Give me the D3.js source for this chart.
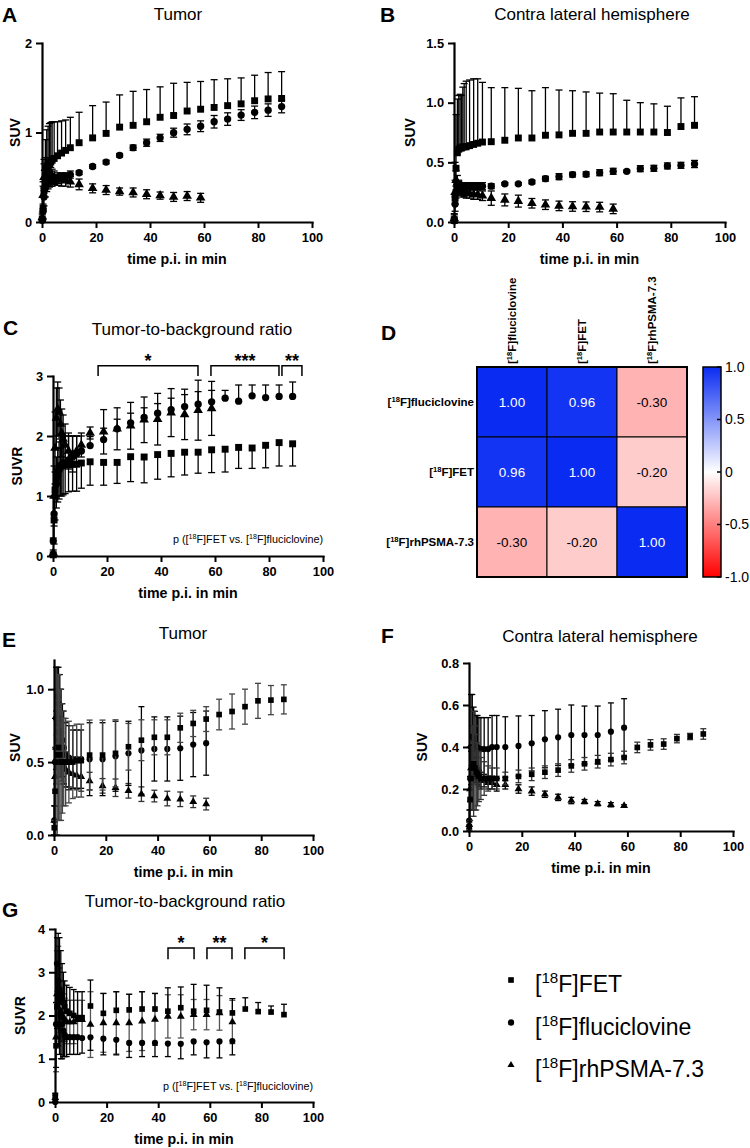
<!DOCTYPE html>
<html>
<head>
<meta charset="utf-8">
<script src="https://cdn.jsdelivr.net/npm/d3@7"></script>
<style>
  body { margin: 0; background: #fff; }
  svg { display: block; font-family: "Liberation Sans", Arial, sans-serif; }
</style>
</head>
<body>
<svg id="fig" width="750" height="1148"></svg>
<script>
// frame mid-times in min (dense early frames, then 5-min frames)
const frameTimes = [0.1, 0.4, 0.75, 1.25, 1.75, 2.25, 2.75, 3.25, 3.75, 4.5, 5.75, 7.25, 8.75, 10.5,
  13.75, 18.75, 23.75, 28.75, 33.75, 38.75, 43.75, 48.75, 53.75, 58.75, 63.75, 68.75, 73.75, 78.75, 83.75, 88.75];
const xTickValues = [0, 20, 40, 60, 80, 100];

// --- A: tumor SUV ---
const aFET = [0.03,0.15,0.35,0.5,0.58,0.62,0.65,0.67,0.69,0.71,0.74,0.77,0.8,0.83, 0.886,0.94,0.99,1.06,1.08,1.12,1.17,1.19,1.24,1.26,1.28,1.30,1.32,1.355,1.375,1.38];
const aFETsd = [0.05,0.25,0.35,0.42,0.45,0.45,0.45,0.44,0.43,0.41,0.38,0.36,0.34,0.34, 0.34,0.36,0.35,0.36,0.38,0.36,0.34,0.36,0.32,0.31,0.31,0.30,0.29,0.285,0.295,0.30];
const aFluc = [0.02,0.12,0.28,0.38,0.42,0.44,0.45,0.46,0.46,0.47,0.48,0.5,0.51,0.53, 0.55,0.62,0.67,0.745,0.83,0.886,0.94,0.998,1.035,1.07,1.12,1.15,1.195,1.225,1.25,1.29];
const aFlucSd = [0.02,0.08,0.1,0.1,0.08,0.07,0.06,0.06,0.06,0.05,0.05,0.05,0.04,0.04, 0.02,0.02,0.02,0.02,0.03,0.04,0.04,0.05,0.06,0.06,0.07,0.07,0.06,0.07,0.07,0.07];
const aPsma = [0.05,0.3,0.5,0.6,0.6,0.57,0.55,0.53,0.51,0.5,0.48,0.47,0.46,0.45, 0.42,0.376,0.357,0.34,0.33,0.31,0.295,0.28,0.29,0.27];
const aPsmaSd = [0.05,0.15,0.15,0.12,0.1,0.09,0.08,0.08,0.08,0.07,0.07,0.07,0.06,0.06, 0.06,0.05,0.05,0.04,0.05,0.05,0.04,0.05,0.05,0.05];

// --- B: contralateral SUV ---
const bFET = [0.02,0.2,0.45,0.58,0.61,0.62,0.62,0.63,0.63,0.63,0.64,0.65,0.66,0.67, 0.673,0.685,0.704,0.704,0.727,0.73,0.743,0.743,0.754,0.754,0.754,0.754,0.754,0.75,0.80,0.81];
const bFETsd = [0.05,0.3,0.45,0.45,0.45,0.45,0.44,0.5,0.53,0.55,0.55,0.55,0.54,0.5, 0.453,0.441,0.416,0.396,0.399,0.376,0.357,0.347,0.326,0.321,0.266,0.246,0.236,0.22,0.24,0.24];
const bFluc = [0.01,0.15,0.25,0.29,0.3,0.3,0.3,0.3,0.3,0.3,0.3,0.3,0.3,0.3, 0.30,0.32,0.32,0.335,0.363,0.38,0.397,0.40,0.413,0.425,0.425,0.447,0.45,0.47,0.475,0.486];
const bFlucSd = [0.02,0.06,0.05,0.04,0.04,0.03,0.03,0.03,0.03,0.03,0.03,0.03,0.03,0.03, 0.02,0.01,0.01,0.015,0.02,0.025,0.02,0.02,0.025,0.025,0.01,0.025,0.025,0.025,0.025,0.03];
const bPsma = [0.03,0.25,0.35,0.33,0.3,0.28,0.27,0.26,0.25,0.24,0.24,0.23,0.23,0.22, 0.20,0.185,0.175,0.157,0.145,0.135,0.13,0.128,0.125,0.11];
const bPsmaSd = [0.03,0.1,0.08,0.06,0.05,0.05,0.05,0.05,0.04,0.04,0.04,0.04,0.04,0.04, 0.06,0.05,0.05,0.04,0.04,0.04,0.04,0.04,0.04,0.04];

// --- C: tumor-to-background SUVR ---
const cFET = [0.02,0.6,1.1,1.3,1.4,1.45,1.5,1.5,1.52,1.52,1.52,1.53,1.53,1.55, 1.57,1.56,1.56,1.655,1.65,1.69,1.71,1.73,1.73,1.77,1.78,1.81,1.80,1.845,1.89,1.87];
const cFETsd = [0.02,0.4,0.5,0.5,0.5,0.5,0.5,0.5,0.5,0.48,0.45,0.45,0.45,0.42, 0.39,0.38,0.35,0.415,0.43,0.41,0.39,0.38,0.35,0.38,0.38,0.35,0.34,0.375,0.39,0.37];
const cFluc = [0.25,0.7,1.0,1.2,1.35,1.45,1.5,1.52,1.55,1.55,1.6,1.65,1.7,1.75, 1.84,1.94,2.12,2.22,2.31,2.38,2.44,2.49,2.53,2.57,2.63,2.58,2.67,2.64,2.66,2.66];
const cFlucSd = [0.05,0.3,0.4,0.45,0.45,0.45,0.45,0.45,0.45,0.45,0.4,0.35,0.3,0.25, 0.15,0.19,0.16,0.16,0.16,0.16,0.19,0.2,0.21,0.19,0.13,0.27,0.18,0.21,0.19,0.24];
const cPsma = [0.05,1.0,1.8,2.3,2.45,2.4,2.2,2.05,1.95,1.85,1.75,1.7,1.75,1.85, 2.05,2.07,2.12,2.17,2.27,2.28,2.39,2.36,2.43,2.46];
const cPsmaSd = [0.05,0.5,0.6,0.5,0.45,0.4,0.4,0.4,0.4,0.35,0.3,0.3,0.25,0.2, 0.1,0.37,0.35,0.39,0.38,0.43,0.4,0.42,0.5,0.45];
const cSignif = [{from: 16.7, to: 53.7, label: "*"}, {from: 58.5, to: 83.7, label: "***"}, {from: 84.8, to: 92.2, label: "**"}];

// --- D: correlation matrix ---
const corrLabels = ["fluciclovine", "FET", "rhPSMA-7.3"];
const corrMatrix = [[1.00, 0.96, -0.30], [0.96, 1.00, -0.20], [-0.30, -0.20, 1.00]];
const corrTicks = [1, 0.5, 0, -0.5, -1];

// --- E: tumor SUV (second cohort) ---
const eFET = [0.05,0.3,0.5,0.55,0.6,0.55,0.5,0.5,0.5,0.5,0.5,0.5,0.51,0.51, 0.548,0.548,0.56,0.605,0.65,0.67,0.67,0.735,0.765,0.795,0.826,0.847,0.88,0.92,0.925,0.93];
const eFETsd = [0.05,0.3,0.5,0.55,0.5,0.45,0.4,0.35,0.3,0.3,0.28,0.25,0.25,0.25, 0.24,0.24,0.23,0.16,0.14,0.12,0.12,0.1,0.09,0.085,0.105,0.12,0.12,0.12,0.1,0.1];
const eFluc = [0.1,0.5,0.8,0.95,0.9,0.8,0.7,0.65,0.6,0.55,0.53,0.52,0.52,0.52, 0.52,0.52,0.54,0.56,0.58,0.59,0.59,0.595,0.62,0.63];
const eFlucSd = [0.1,0.3,0.35,0.2,0.25,0.3,0.3,0.25,0.25,0.22,0.22,0.2,0.2,0.2, 0.25,0.25,0.24,0.22,0.3,0.22,0.22,0.22,0.22,0.22];
const ePsma = [0.1,0.4,0.6,0.7,0.65,0.6,0.55,0.5,0.47,0.45,0.43,0.42,0.41,0.4, 0.37,0.337,0.324,0.303,0.28,0.267,0.25,0.245,0.228,0.212];
const ePsmaSd = [0.1,0.2,0.25,0.3,0.25,0.2,0.18,0.15,0.12,0.12,0.1,0.1,0.1,0.1, 0.06,0.05,0.06,0.05,0.05,0.04,0.05,0.05,0.04,0.04];

// --- F: contralateral SUV (second cohort) ---
const fFET = [0.02,0.15,0.25,0.3,0.32,0.3,0.28,0.27,0.26,0.25,0.25,0.25,0.25,0.25, 0.25,0.26,0.27,0.28,0.29,0.31,0.32,0.33,0.34,0.35,0.398,0.41,0.414,0.44,0.45,0.462];
const fFETsd = [0.02,0.1,0.15,0.2,0.25,0.2,0.18,0.15,0.12,0.1,0.08,0.06,0.05,0.05, 0.03,0.03,0.03,0.03,0.03,0.03,0.03,0.03,0.03,0.03,0.025,0.025,0.025,0.02,0.015,0.025];
const fFluc = [0.05,0.25,0.4,0.45,0.44,0.42,0.4,0.4,0.39,0.39,0.39,0.39,0.4,0.4, 0.40,0.405,0.418,0.437,0.446,0.457,0.457,0.457,0.473,0.492];
const fFlucSd = [0.05,0.15,0.25,0.2,0.15,0.15,0.15,0.15,0.15,0.15,0.15,0.15,0.15,0.15, 0.144,0.143,0.132,0.136,0.134,0.143,0.138,0.138,0.137,0.138];
const fPsma = [0.03,0.2,0.3,0.32,0.3,0.28,0.27,0.26,0.25,0.24,0.24,0.23,0.23,0.22, 0.22,0.2,0.19,0.175,0.16,0.145,0.14,0.13,0.125,0.12];
const fPsmaSd = [0.02,0.06,0.08,0.06,0.05,0.05,0.04,0.04,0.04,0.04,0.03,0.03,0.03,0.03, 0.02,0.02,0.02,0.015,0.015,0.015,0.01,0.01,0.01,0.005];

// --- G: tumor-to-background SUVR (second cohort) ---
const gFET = [0.15,1.3,2.2,2.5,2.6,2.5,2.4,2.3,2.2,2.1,2.05,2.0,1.95,1.95, 2.22,2.05,2.12,2.13,2.15,2.15,2.10,2.18,2.10,2.12,2.08,2.06,2.15,2.09,2.08,2.02];
const gFETsd = [0.05,1.0,1.6,1.4,1.2,1.0,0.8,0.7,0.6,0.6,0.6,0.6,0.6,0.6, 0.6,0.46,0.43,0.36,0.4,0.36,0.54,0.48,0.62,0.58,0.56,0.33,0.26,0.21,0.14,0.24];
const gFluc = [0.0,1.8,3.2,2.8,2.4,2.0,1.8,1.65,1.55,1.5,1.5,1.5,1.5,1.48, 1.495,1.465,1.44,1.365,1.365,1.365,1.35,1.345,1.40,1.38,1.40,1.41];
const gFlucSd = [0.0,1.0,1.5,1.5,1.3,1.0,0.8,0.6,0.5,0.45,0.4,0.4,0.4,0.35, 0.3,0.375,0.35,0.335,0.315,0.315,0.3,0.345,0.31,0.36,0.38,0.32];
const gPsma = [0.1,1.5,2.5,2.6,2.3,2.1,2.0,1.95,1.9,1.85,1.85,1.85,1.9,1.9, 1.79,1.83,1.83,1.83,1.87,1.91,1.98,1.98,2.02,2.02,2.06,1.85];
const gPsmaSd = [0.05,0.8,1.0,1.0,0.8,0.7,0.6,0.55,0.5,0.5,0.5,0.5,0.45,0.45, 0.76,0.68,0.72,0.66,0.68,0.6,0.5,0.5,0.35,0.35,0.4,0.5];
const gSignif = [{from: 43.8, to: 53.9, label: "*"}, {from: 58.9, to: 68.6, label: "**"}, {from: 73.6, to: 88.8, label: "*"}];

const legendItems = [{shape: "square", name: "FET"}, {shape: "circle", name: "fluciclovine"}, {shape: "triangle", name: "rhPSMA-7.3"}];

const FONT = '"Liberation Sans", Arial, sans-serif';
const shapes = {square: d3.symbolSquare, circle: d3.symbolCircle, triangle: d3.symbolTriangle};
const svg = d3.select("#fig");

// text with ^sup^ segments
function richText(sel, str, fs) {
  let up = false;
  str.split("^").forEach((s, i) => {
    const sup = i % 2 === 1;
    if (!s) return;
    const t = sel.append("tspan").text(s);
    if (sup) { t.attr("font-size", fs * 0.66).attr("dy", -fs * 0.38); up = true; }
    else if (up) { t.attr("dy", fs * 0.38); up = false; }
  });
}

function drawSeries(g, x, y, s, p) {
  const pts = s.mean.map((m, i) => ({t: frameTimes[i], m, sd: s.sd[i]}));
  const lo = d => s.dir === "up" ? d.m : d.m - d.sd;
  const hi = d => s.dir === "down" ? d.m : d.m + d.sd;
  const bars = g.append("g").attr("stroke", s.barColor || "#000").attr("stroke-width", 1.3);
  bars.append("g").selectAll("line").data(pts).join("line")
    .attr("x1", d => x(d.t)).attr("x2", d => x(d.t))
    .attr("y1", d => y(lo(d))).attr("y2", d => y(hi(d)));
  const ends = [];
  if (s.dir !== "down") ends.push(hi);
  if (s.dir !== "up") ends.push(lo);
  ends.forEach(fn => {
    bars.append("g").selectAll("line").data(pts).join("line")
      .attr("x1", d => x(d.t) - p.cap).attr("x2", d => x(d.t) + p.cap)
      .attr("y1", d => y(fn(d))).attr("y2", d => y(fn(d)));
  });
  g.append("g").selectAll("path").data(pts).join("path")
    .attr("transform", d => `translate(${x(d.t)},${y(d.m)})`)
    .attr("d", d3.symbol().type(shapes[s.shape]).size(p.msize[s.shape]))
    .attr("fill", "#000");
}

function drawPanel(p) {
  const g = svg.append("g");
  const x = d3.scaleLinear().domain([0, 100]).range([p.x0, p.x1]);
  const y = d3.scaleLinear().domain([0, p.yMax]).range([p.y0, p.y1]);

  const clipId = "clip" + p.key;
  svg.append("clipPath").attr("id", clipId).append("rect")
    .attr("x", p.x0 - 10).attr("y", p.y1 - 1)
    .attr("width", p.x1 - p.x0 + 20).attr("height", p.y0 - p.y1 + 8);
  const plot = g.append("g").attr("clip-path", `url(#${clipId})`);
  p.series.forEach(s => drawSeries(plot, x, y, s, p));

  const xa = g.append("g").attr("transform", `translate(0,${p.y0})`)
    .call(d3.axisBottom(x).tickValues(xTickValues).tickSize(6).tickSizeOuter(0).tickPadding(5));
  const ya = g.append("g").attr("transform", `translate(${p.x0},0)`)
    .call(d3.axisLeft(y).tickValues(p.yTicks).tickFormat(p.yFmt).tickSize(6).tickSizeOuter(0).tickPadding(4));
  [xa, ya].forEach(a => {
    a.attr("font-family", FONT).attr("font-size", 12.8).attr("font-weight", "bold");
    a.select(".domain").attr("stroke-width", 2.2).attr("stroke-linecap", "square");
    a.selectAll(".tick line").attr("stroke-width", 2);
    a.selectAll(".tick text").attr("fill", "#000");
  });

  g.append("text").attr("x", (p.x0 + p.x1) / 2).attr("y", p.y0 + 42)
    .attr("text-anchor", "middle").attr("font-weight", "bold").attr("font-size", 14.2)
    .text("time p.i. in min");
  g.append("text").attr("transform", `translate(${p.ylabX},${(p.y0 + p.y1) / 2}) rotate(-90)`)
    .attr("text-anchor", "middle").attr("dy", "0.35em").attr("font-weight", "bold").attr("font-size", 14)
    .text(p.ylab);
  g.append("text").attr("x", p.titleX).attr("y", p.titleY).attr("text-anchor", "middle")
    .attr("font-size", 17).text(p.title);
  g.append("text").attr("x", p.letterX).attr("y", p.letterY).attr("font-size", 21)
    .attr("font-weight", "bold").text(p.key);

  if (p.signif) {
    p.signif.forEach(b => {
      const yb = y(p.bracket[0]), ye = y(p.bracket[1]);
      g.append("path").attr("fill", "none").attr("stroke", "#000").attr("stroke-width", 1.5)
        .attr("d", `M${x(b.from)},${ye}V${yb}H${x(b.to)}V${ye}`);
      g.append("text").attr("x", (x(b.from) + x(b.to)) / 2).attr("y", yb + 1)
        .attr("text-anchor", "middle").attr("font-weight", "bold").attr("font-size", 18).text(b.label);
    });
  }
  if (p.pText) {
    const t = g.append("text").attr("x", p.x1).attr("y", p.pTextY).attr("text-anchor", "end")
      .attr("font-size", 10.8);
    richText(t, "p ([^18^F]FET vs. [^18^F]fluciclovine)", 10.8);
  }
}

const bigMarks = {square: 48, circle: 42, triangle: 40};
const smallMarks = {square: 32, circle: 30, triangle: 27};
const fmtInt = d3.format("d"), fmt1 = d3.format(".1f");

const panels = [
  {key: "A", title: "Tumor", ylab: "SUV", yMax: 2, yTicks: [0, 1, 2], yFmt: fmtInt,
   x0: 42, x1: 312, y0: 222, y1: 43, ylabX: 15, titleX: 178, titleY: 20, letterX: 2, letterY: 22,
   cap: 3.5, msize: bigMarks,
   series: [
     {mean: aPsma, sd: aPsmaSd, shape: "triangle", dir: "both"},
     {mean: aFluc, sd: aFlucSd, shape: "circle", dir: "both"},
     {mean: aFET, sd: aFETsd, shape: "square", dir: "up"}]},
  {key: "B", title: "Contra lateral hemisphere", ylab: "SUV", yMax: 1.5, yTicks: [0, 0.5, 1, 1.5], yFmt: fmt1,
   x0: 454, x1: 725, y0: 222, y1: 43, ylabX: 410, titleX: 592, titleY: 20, letterX: 380, letterY: 22,
   cap: 3.5, msize: bigMarks,
   series: [
     {mean: bPsma, sd: bPsmaSd, shape: "triangle", dir: "both"},
     {mean: bFluc, sd: bFlucSd, shape: "circle", dir: "both"},
     {mean: bFET, sd: bFETsd, shape: "square", dir: "up"}]},
  {key: "C", title: "Tumor-to-background ratio", ylab: "SUVR", yMax: 3, yTicks: [0, 1, 2, 3], yFmt: fmtInt,
   x0: 53, x1: 323, y0: 556, y1: 376, ylabX: 17, titleX: 192, titleY: 335, letterX: 3, letterY: 335,
   cap: 3.5, msize: bigMarks, signif: cSignif, bracket: [3.17, 3.0], pText: true, pTextY: 543,
   series: [
     {mean: cPsma, sd: cPsmaSd, shape: "triangle", dir: "both"},
     {mean: cFluc, sd: cFlucSd, shape: "circle", dir: "up"},
     {mean: cFET, sd: cFETsd, shape: "square", dir: "down"}]},
  {key: "E", title: "Tumor", ylab: "SUV", yMax: 1.2, yTicks: [0, 0.5, 1], yFmt: fmt1,
   x0: 54, x1: 313, y0: 835, y1: 660, ylabX: 15, titleX: 183, titleY: 639, letterX: 2, letterY: 647,
   cap: 3, msize: smallMarks,
   series: [
     {mean: ePsma, sd: ePsmaSd, shape: "triangle", dir: "both", barColor: "#333"},
     {mean: eFluc, sd: eFlucSd, shape: "circle", dir: "both"},
     {mean: eFET, sd: eFETsd, shape: "square", dir: "both", barColor: "#444"}]},
  {key: "F", title: "Contra lateral hemisphere", ylab: "SUV", yMax: 0.8, yTicks: [0, 0.2, 0.4, 0.6, 0.8], yFmt: fmt1,
   x0: 469, x1: 733, y0: 831, y1: 663, ylabX: 422, titleX: 600, titleY: 642, letterX: 381, letterY: 643,
   cap: 3, msize: smallMarks,
   series: [
     {mean: fPsma, sd: fPsmaSd, shape: "triangle", dir: "both"},
     {mean: fFluc, sd: fFlucSd, shape: "circle", dir: "both"},
     {mean: fFET, sd: fFETsd, shape: "square", dir: "both", barColor: "#333"}]},
  {key: "G", title: "Tumor-to-background ratio", ylab: "SUVR", yMax: 4, yTicks: [0, 1, 2, 3, 4], yFmt: fmtInt,
   x0: 55, x1: 313, y0: 1102, y1: 929, ylabX: 20, titleX: 185, titleY: 907, letterX: 2, letterY: 917,
   cap: 3, msize: smallMarks, signif: gSignif, bracket: [3.56, 3.3], pText: true, pTextY: 1090,
   series: [
     {mean: gPsma, sd: gPsmaSd, shape: "triangle", dir: "both", barColor: "#555"},
     {mean: gFluc, sd: gFlucSd, shape: "circle", dir: "down"},
     {mean: gFET, sd: gFETsd, shape: "square", dir: "up"}]}
];
panels.forEach(drawPanel);

// --- D: heatmap ---
(function drawHeatmap() {
  const g = svg.append("g");
  const xb = d3.scaleBand().domain(corrLabels).range([477, 687]);
  const yb = d3.scaleBand().domain(corrLabels).range([367, 577]);
  const color = d3.scaleLinear().domain([-1, 0, 1]).range(["#ff0000", "#ffffff", "#0a2cf2"]);
  const cells = [];
  corrMatrix.forEach((row, i) => row.forEach((v, j) => cells.push({r: corrLabels[i], c: corrLabels[j], v})));
  g.selectAll("rect.cell").data(cells).join("rect").attr("class", "cell")
    .attr("x", d => xb(d.c)).attr("y", d => yb(d.r))
    .attr("width", xb.bandwidth()).attr("height", yb.bandwidth())
    .attr("fill", d => color(d.v)).attr("stroke", "#000").attr("stroke-width", 1);
  g.append("rect").attr("x", 477).attr("y", 367).attr("width", 210).attr("height", 210)
    .attr("fill", "none").attr("stroke", "#000").attr("stroke-width", 2);
  g.selectAll("text.val").data(cells).join("text").attr("class", "val")
    .attr("x", d => xb(d.c) + xb.bandwidth() / 2).attr("y", d => yb(d.r) + yb.bandwidth() / 2)
    .attr("dy", "0.35em").attr("text-anchor", "middle").attr("font-size", 13.5)
    .attr("fill", d => d.v > 0.5 ? "#fff" : "#000").text(d => d.v.toFixed(2));
  corrLabels.forEach(l => {
    const t = g.append("text").attr("x", 474).attr("y", yb(l) + yb.bandwidth() / 2).attr("dy", "0.35em")
      .attr("text-anchor", "end").attr("font-weight", "bold").attr("font-size", 11.5);
    richText(t, "[^18^F]" + l, 11.5);
    const c = g.append("text")
      .attr("transform", `translate(${xb(l) + xb.bandwidth() / 2},${364}) rotate(-90)`)
      .attr("dy", "0.35em").attr("text-anchor", "start").attr("font-weight", "bold").attr("font-size", 11.5);
    richText(c, "[^18^F]" + l, 11.5);
  });
  // colour bar
  const grad = svg.append("defs").append("linearGradient").attr("id", "cbar")
    .attr("x1", 0).attr("y1", 1).attr("x2", 0).attr("y2", 0);
  [-1, 0, 1].forEach(v => grad.append("stop").attr("offset", (v + 1) / 2).attr("stop-color", color(v)));
  const cy = d3.scaleLinear().domain([-1, 1]).range([577, 367]);
  g.append("rect").attr("x", 703).attr("y", 367).attr("width", 18).attr("height", 210)
    .attr("fill", "url(#cbar)").attr("stroke", "#000").attr("stroke-width", 1.5);
  g.selectAll("line.ct").data(corrTicks).join("line").attr("class", "ct")
    .attr("x1", 717).attr("x2", 721).attr("y1", d => cy(d)).attr("y2", d => cy(d))
    .attr("stroke", "#000").attr("stroke-width", 1.5);
  g.selectAll("text.ct").data(corrTicks).join("text").attr("class", "ct")
    .attr("x", 725).attr("y", d => cy(d)).attr("dy", "0.35em").attr("font-size", 14)
    .text(d => d === 0 ? "0" : d.toFixed(1));
  g.append("text").attr("x", 381).attr("y", 340).attr("font-size", 21).attr("font-weight", "bold").text("D");
})();

// --- legend ---
(function drawLegend() {
  const ly = d3.scalePoint().domain(legendItems.map(d => d.name)).range([983, 1068]);
  const g = svg.append("g");
  g.selectAll("path").data(legendItems).join("path")
    .attr("transform", d => `translate(511,${ly(d.name) - 3})`)
    .attr("d", d => d3.symbol().type(shapes[d.shape]).size(d.shape === "triangle" ? 22 : 32)());
  legendItems.forEach(d => {
    const t = g.append("text").attr("x", 535).attr("y", ly(d.name) + 9).attr("font-size", 23);
    richText(t, "[^18^F]" + d.name, 23);
  });
})();
</script>
</body>
</html>
